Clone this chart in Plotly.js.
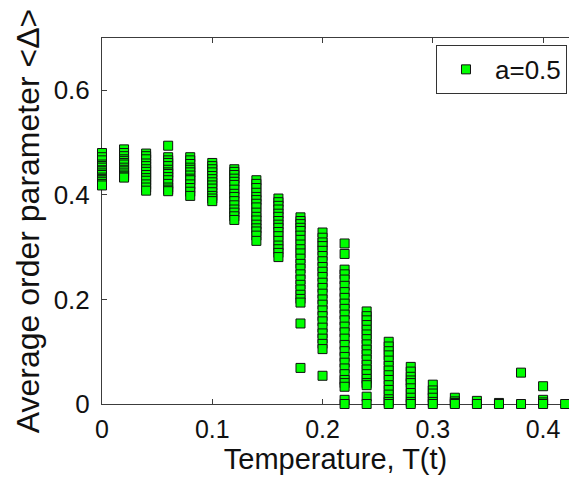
<!DOCTYPE html>
<html>
<head>
<meta charset="utf-8">
<script src="https://cdn.plot.ly/plotly-3.0.1.min.js"></script>
<style>html,body{margin:0;padding:0;background:#fff;}#chart{width:569px;height:478px;}</style>
</head>
<body>
<div id="chart"></div>
<script>
// Temperatures T(t)
const temperatures = [0, 0.02, 0.04, 0.06, 0.08, 0.10, 0.12, 0.14, 0.16, 0.18, 0.20,
                      0.22, 0.24, 0.26, 0.28, 0.30, 0.32, 0.34, 0.36, 0.38, 0.40, 0.42];

// Order parameter <Delta> of each run, one list per temperature
const deltaT000 = [0.480, 0.472, 0.466, 0.458, 0.455, 0.452, 0.447, 0.445, 0.441, 0.438, 0.433, 0.430, 0.428, 0.425, 0.421, 0.418];
const deltaT002 = [0.487, 0.480, 0.474, 0.468, 0.465, 0.461, 0.458, 0.452, 0.448, 0.445, 0.441, 0.437, 0.435, 0.433];
const deltaT004 = [0.479, 0.474, 0.468, 0.460, 0.455, 0.449, 0.444, 0.438, 0.432, 0.427, 0.420, 0.414, 0.408];
const deltaT006 = [0.494, 0.472, 0.466, 0.461, 0.455, 0.448, 0.443, 0.440, 0.434, 0.428, 0.421, 0.414, 0.410, 0.407];
const deltaT008 = [0.472, 0.466, 0.459, 0.452, 0.448, 0.443, 0.437, 0.431, 0.428, 0.420, 0.413, 0.406, 0.398];
const deltaT010 = [0.461, 0.455, 0.449, 0.443, 0.436, 0.430, 0.424, 0.418, 0.412, 0.405, 0.398, 0.393, 0.388];
const deltaT012 = [0.449, 0.444, 0.438, 0.431, 0.425, 0.419, 0.410, 0.402, 0.396, 0.388, 0.380, 0.372, 0.366, 0.359, 0.352];
const deltaT014 = [0.428, 0.421, 0.413, 0.404, 0.396, 0.390, 0.383, 0.376, 0.366, 0.358, 0.351, 0.343, 0.336, 0.330, 0.322, 0.312];
const deltaT016 = [0.393, 0.386, 0.379, 0.372, 0.364, 0.358, 0.350, 0.343, 0.337, 0.329, 0.321, 0.312, 0.303, 0.296, 0.289, 0.281];
const deltaT018 = [0.357, 0.350, 0.344, 0.337, 0.331, 0.322, 0.314, 0.305, 0.296, 0.288, 0.278, 0.268, 0.259, 0.248, 0.238, 0.228, 0.219, 0.209, 0.201, 0.194, 0.154, 0.069];
const deltaT020 = [0.328, 0.318, 0.309, 0.302, 0.293, 0.283, 0.273, 0.262, 0.253, 0.243, 0.232, 0.222, 0.211, 0.200, 0.190, 0.179, 0.168, 0.158, 0.146, 0.135, 0.125, 0.115, 0.105, 0.054];
const deltaT022 = [0.307, 0.287, 0.257, 0.248, 0.238, 0.226, 0.214, 0.203, 0.192, 0.182, 0.171, 0.160, 0.148, 0.137, 0.125, 0.113, 0.101, 0.090, 0.079, 0.068, 0.057, 0.046, 0.040, 0.033, 0.008, 0.0];
const deltaT024 = [0.177, 0.168, 0.160, 0.151, 0.142, 0.133, 0.124, 0.114, 0.104, 0.095, 0.085, 0.075, 0.066, 0.057, 0.048, 0.040, 0.036, 0.014, 0.0];
const deltaT026 = [0.119, 0.110, 0.101, 0.093, 0.083, 0.073, 0.064, 0.055, 0.046, 0.036, 0.027, 0.018, 0.009, 0.004, 0.0];
const deltaT028 = [0.071, 0.062, 0.052, 0.045, 0.040, 0.030, 0.021, 0.012, 0.004, 0.0];
const deltaT030 = [0.037, 0.026, 0.020, 0.012, 0.004, 0.0];
const deltaT032 = [0.012, 0.005, 0.002, 0.0];
const deltaT034 = [0.006, 0.0];
const deltaT036 = [0.002, 0.0];
const deltaT038 = [0.060, 0.0];
const deltaT040 = [0.034, 0.008, 0.003, 0.0];
const deltaT042 = [0.0];

const deltaByTemperature = [deltaT000, deltaT002, deltaT004, deltaT006, deltaT008, deltaT010,
  deltaT012, deltaT014, deltaT016, deltaT018, deltaT020, deltaT022, deltaT024, deltaT026,
  deltaT028, deltaT030, deltaT032, deltaT034, deltaT036, deltaT038, deltaT040, deltaT042];

const seriesName = "a=0.5";
const xTickVals = [0, 0.1, 0.2, 0.3, 0.4];
const yTickVals = [0, 0.2, 0.4, 0.6];

const xs = [], ys = [];
temperatures.forEach((t, i) => {
  deltaByTemperature[i].forEach(v => { xs.push(t); ys.push(v); });
});

const FONT = "Liberation Sans, Arial, Helvetica, sans-serif";
const AXC = "#3c3c3c";

const trace = {
  x: xs, y: ys, type: "scatter", mode: "markers", name: seriesName,
  cliponaxis: false,
  marker: {symbol: "square", size: 9, color: "#00ff00", line: {color: "#111111", width: 1}},
  showlegend: true
};

const layout = {
  width: 569, height: 478,
  margin: {l: 102, r: 0, t: 38, b: 74, pad: 0},
  paper_bgcolor: "#ffffff", plot_bgcolor: "#ffffff",
  font: {family: FONT, color: "#000000"},
  showlegend: true,
  xaxis: {
    range: [0, 0.4235], tickvals: xTickVals, ticktext: xTickVals.map(String),
    showgrid: false, zeroline: false, showline: true, linecolor: AXC, linewidth: 1,
    mirror: "ticks", ticks: "inside", ticklen: 5, tickcolor: AXC,
    tickfont: {family: FONT, size: 25, color: "#111"},
    ticklabelstandoff: 3,
    layer: "below traces",
    title: {text: "Temperature, T(t)", font: {family: FONT, size: 29, color: "#111"}, standoff: 0}
  },
  yaxis: {
    range: [0, 0.7], tickvals: yTickVals, ticktext: yTickVals.map(String),
    showgrid: false, zeroline: false, showline: true, linecolor: AXC, linewidth: 1,
    mirror: false, ticks: "inside", ticklen: 5, tickcolor: AXC,
    tickfont: {family: FONT, size: 26, color: "#111"},
    ticklabelstandoff: 6,
    layer: "below traces",
    title: {text: "Average order parameter <Δ>", font: {family: FONT, size: 32, color: "#111"}, standoff: 4}
  },
  legend: {
    x: 0.9957, xanchor: "right", y: 0.981, yanchor: "top",
    bgcolor: "#ffffff", bordercolor: "#333333", borderwidth: 1,
    font: {family: FONT, size: 26, color: "#111"},
    itemwidth: 48
  }
};

Plotly.newPlot("chart", [trace], layout, {displayModeBar: false, staticPlot: true});
</script>
</body>
</html>
